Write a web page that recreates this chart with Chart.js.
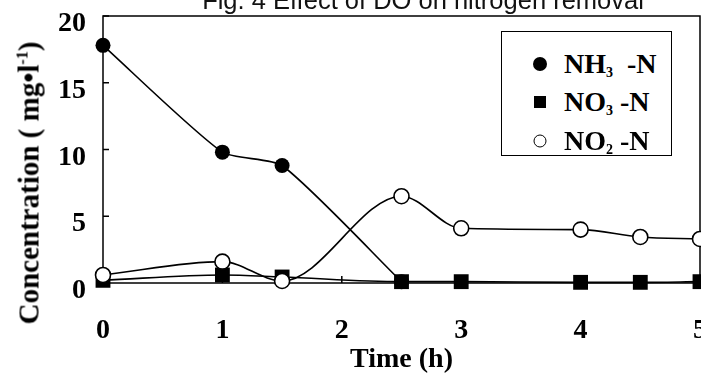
<!DOCTYPE html>
<html>
<head>
<meta charset="utf-8">
<script src="https://cdn.jsdelivr.net/npm/chart.js@4"></script>
<style>
    html, body { margin: 0; padding: 0; background: #fff; overflow: hidden; }
    #wrap { position: relative; width: 701px; height: 374px; overflow: hidden; }
    #myChart { position: absolute; left: 0; top: 0; }
    .serif { font-family: "Liberation Serif", "Times New Roman", serif; font-weight: bold; color: #000; }
    #fig-title {
        position: absolute; left: 0; top: -12px; width: 846px; text-align: center;
        font-family: "Liberation Sans", Arial, sans-serif; font-size: 25.5px; line-height: 25px; color: #111;
        white-space: nowrap;
    }
    #y-title {
        position: absolute; left: 29px; top: 183px; font-size: 29px; white-space: nowrap;
        transform: translate(-50%, -50%) rotate(-90deg);
    }
    #legend {
        position: absolute; left: 501px; top: 31px; width: 169px; height: 123px;
        border: 1.5px solid #000; background: #fff;
    }
    .row { position: absolute; left: 0; height: 30px; width: 100%; }
    .mark { position: absolute; left: 38px; top: 15px; transform: translate(-50%, -50%); box-sizing: border-box; }
    .txt { position: absolute; left: 62px; top: 0; line-height: 30px; font-size: 28px; white-space: nowrap; }
    .txt sub { font-size: 14px; vertical-align: -4px; }
</style>
</head>
<body>
<div id="wrap">
    <canvas id="myChart" width="701" height="374"></canvas>
    <div id="fig-title">Fig. 4 Effect of DO on nitrogen removal</div>
    <div id="y-title" class="serif">Concentration ( mg•l<sup style="font-size:16px">-1</sup>)</div>
    <div id="legend" class="serif">
        <div class="row" style="top:17px"><span class="mark" style="width:14px;height:14px;border-radius:50%;background:#000"></span><span class="txt">NH<sub>3</sub>&nbsp; -N</span></div>
        <div class="row" style="top:55px"><span class="mark" style="width:12px;height:12px;background:#000"></span><span class="txt">NO<sub>3</sub> -N</span></div>
        <div class="row" style="top:94px"><span class="mark" style="width:13px;height:13px;border-radius:50%;border:1.5px solid #000;background:#fff"></span><span class="txt">NO<sub>2</sub> -N</span></div>
    </div>
</div>
<script>
    // values
    const hours = [0, 1, 1.5, 2.5, 3, 4, 4.5, 5];
    const nh3 = [17.8, 9.8, 8.8, 0.1, null, null, null, null];
    const no3 = [0.2, 0.6, 0.45, 0.1, 0.1, 0.05, 0.05, 0.1];
    const no2 = [0.6, 1.6, 0.15, 6.5, 4.1, 4.0, 3.45, 3.3];

    const yTicks = [0, 5, 10, 15, 20];
    const xTicks = [0, 1, 2, 3, 4, 5];

    const pts = (arr) => hours.map((h, i) => ({x: h, y: arr[i]}));
    const serif = '"Liberation Serif", "Times New Roman", serif';

    // box round the plot + short inward ticks
    const frame = {
        id: 'frame',
        beforeDatasetsDraw(chart) {
            const {ctx, chartArea: a, scales} = chart;
            ctx.save();
            ctx.strokeStyle = '#000';
            ctx.lineWidth = 1.5;
            ctx.strokeRect(a.left, a.top, a.right - a.left, a.bottom - a.top);
            ctx.beginPath();
            xTicks.forEach(v => {
                const px = scales.x.getPixelForValue(v);
                ctx.moveTo(px, a.bottom);
                ctx.lineTo(px, a.bottom - 7);
            });
            yTicks.forEach(v => {
                const py = scales.y.getPixelForValue(v);
                ctx.moveTo(a.left, py);
                ctx.lineTo(a.left + 6, py);
            });
            ctx.stroke();
            ctx.restore();
        }
    };

    const common = {
        borderColor: '#000',
        borderWidth: 1.6,
        clip: false
    };

    const ctx = document.getElementById('myChart').getContext('2d');
    const myChart = new Chart(ctx, {
        type: 'line',
        data: {
            datasets: [
                Object.assign({
                    label: 'NH3 -N',
                    data: pts(nh3),
                    backgroundColor: '#000',
                    pointStyle: 'circle',
                    pointRadius: 7.5,
                    pointBorderWidth: 0,
                    tension: 0.2,
                    order: 3
                }, common),
                Object.assign({
                    label: 'NO3 -N',
                    data: pts(no3),
                    backgroundColor: '#000',
                    pointStyle: 'rect',
                    pointRadius: 10.5,
                    pointBorderWidth: 0,
                    cubicInterpolationMode: 'monotone',
                    order: 2
                }, common),
                Object.assign({
                    label: 'NO2 -N',
                    data: pts(no2),
                    backgroundColor: '#fff',
                    pointStyle: 'circle',
                    pointRadius: 7.5,
                    pointBorderWidth: 1.6,
                    cubicInterpolationMode: 'monotone',
                    order: 1
                }, common)
            ]
        },
        options: {
            responsive: false,
            animation: false,
            layout: {autoPadding: false, padding: {top: 16, right: 1, left: 0, bottom: 0}},
            plugins: {legend: {display: false}, tooltip: {enabled: false}},
            scales: {
                x: {
                    type: 'linear',
                    min: 0,
                    max: 5,
                    grid: {display: false},
                    border: {display: false},
                    afterBuildTicks: (s) => { s.ticks = xTicks.map(v => ({value: v})); },
                    ticks: {color: '#000', padding: 23, font: {family: serif, size: 28, weight: 'bold'}},
                    title: {
                        display: true, text: 'Time (h)', color: '#000',
                        padding: {top: 0, bottom: -3},
                        font: {family: serif, size: 28, weight: 'bold'}
                    },
                    afterFit: (s) => { s.height = 91; s.paddingLeft = 0; s.paddingRight = 0; }
                },
                y: {
                    min: 0,
                    max: 20,
                    grid: {display: false},
                    border: {display: false},
                    afterBuildTicks: (s) => { s.ticks = yTicks.map(v => ({value: v})); },
                    ticks: {color: '#000', padding: 9, labelOffset: 8, font: {family: serif, size: 28, weight: 'bold'}},
                    afterFit: (s) => { s.width = 103; s.paddingTop = 0; s.paddingBottom = 0; }
                }
            }
        },
        plugins: [frame]
    });
</script>
</body>
</html>
